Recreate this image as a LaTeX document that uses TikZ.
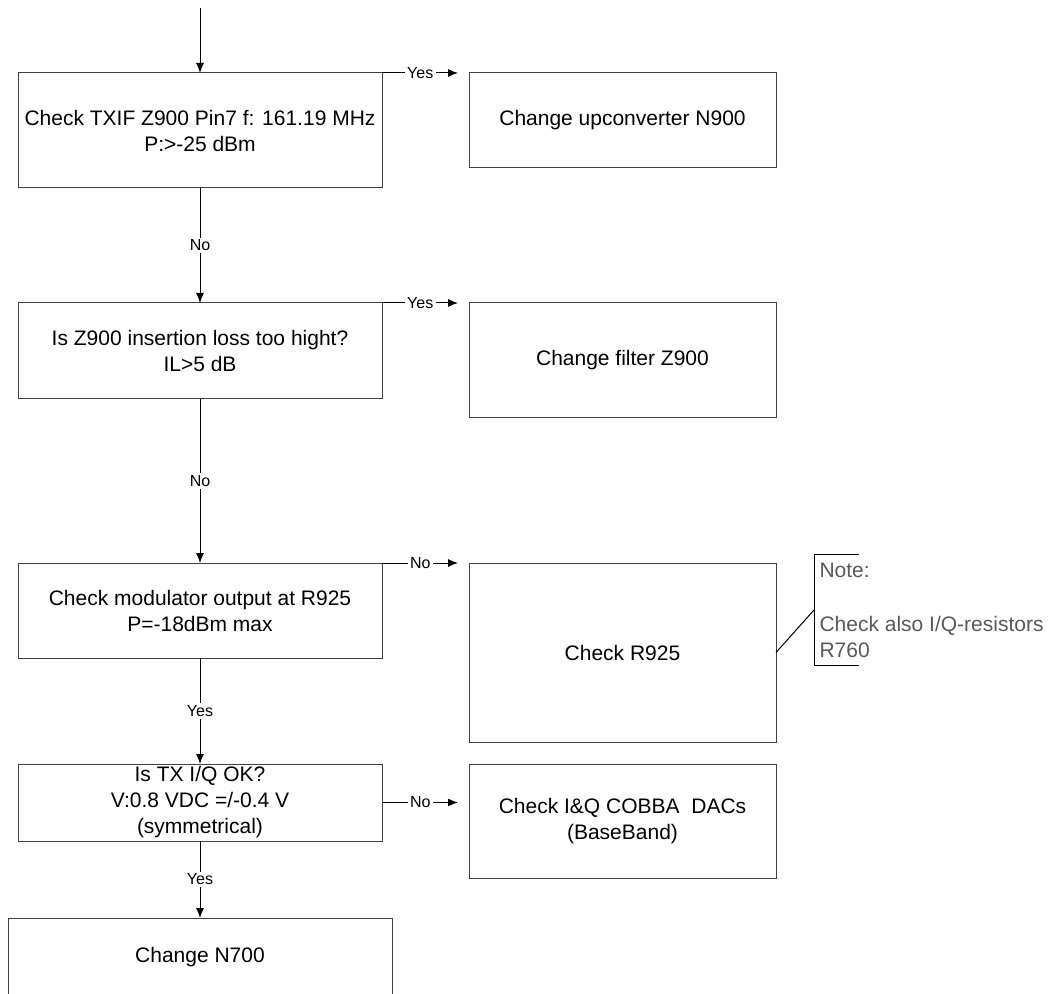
\documentclass[tikz,border=0pt]{standalone}
\usepackage{fontspec}
\setmainfont{Liberation Sans}
\usetikzlibrary{arrows.meta}
\newcommand{\boxfont}{\fontsize{10.5}{13}\selectfont}
\newcommand{\lblfont}{\fontsize{8}{9.6}\selectfont}
\tikzset{
	stepbox/.style={draw=black!75, inner sep=0pt, outer sep=0pt, anchor=north west, align=center, font=\boxfont},
	chk/.style={stepbox, minimum width=182pt},
	fix/.style={stepbox, minimum width=153.5pt},
	lbl/.style={fill=white, inner sep=1.2pt, font=\lblfont},
}

\begin{document}
\begin{tikzpicture}[x=0.5pt, y=-0.5pt, line width=0.5pt, >={Latex[length=5pt,width=4pt]}]
			\useasboundingbox (0,0) rectangle (1055,994);
			% checks, left column
			\node[chk, minimum height=57.5pt] (c-1) at (18,73) {Check TXIF Z900 Pin7 f: 161.19 MHz\\P:>-25 dBm};
			\node[chk, minimum height=48pt] (c-2) at (18,303) {Is Z900 insertion loss too hight?\\IL>5 dB};
			\node[chk, minimum height=47.5pt] (c-3) at (18,563) {Check modulator output at R925\\P=-18dBm max};
			\node[chk, minimum height=38.5pt] (c-4) at (18,764) {Is TX I/Q OK?\\V:0.8 VDC =/-0.4 V\\(symmetrical)};
			\node[stepbox, minimum width=192pt, minimum height=39pt] (c-5) at (8,918) {Change N700};
			% actions, right column
			\node[fix, minimum height=47.5pt] (a-1) at (469,73) {Change upconverter N900};
			\node[fix, minimum height=57.5pt] (a-2) at (469,303) {Change filter Z900};
			\node[fix, minimum height=89.5pt] (a-3) at (469,563) {Check R925};
			\node[fix, minimum height=57pt] (a-4) at (469,764) {Check I\&Q COBBA~~DACs\\(BaseBand)};
			% note
			\node[anchor=west, minimum height=55pt, inner xsep=2.5pt, inner ysep=0pt, align=left, text=black!65, font=\boxfont] (nt) at (814,610)
				{Note:\\[14pt]Check also I/Q-resistors\\R760};
			\draw ([xshift=22.5pt]nt.north west) -- (nt.north west) -- (nt.south west) -- ([xshift=22.5pt]nt.south west);
			\coordinate (in) at (200,8);

			\path[->]
			(in) edge (c-1.north)
			(c-1.south) edge node[lbl]{No} (c-2.north)
			(c-2.south) edge node[lbl]{No} (c-3.north)
			(c-3.south) edge node[lbl]{Yes} (c-4.north)
			(c-4.south) edge node[lbl]{Yes} (c-5.north)
			(c-1.north east) edge[shorten >=5.5pt] node[lbl, pos=0.44]{Yes} (a-1.north west)
			(c-2.north east) edge[shorten >=5.5pt] node[lbl, pos=0.44]{Yes} (a-2.north west)
			(c-3.north east) edge[shorten >=5.5pt] node[lbl, pos=0.44]{No} (a-3.north west)
			(c-4.east) edge[shorten >=5.5pt] node[lbl, pos=0.44]{No} (c-4.east -| a-4.west);
			\draw (a-3.east) -- (nt.west);
		\end{tikzpicture}
\end{document}
